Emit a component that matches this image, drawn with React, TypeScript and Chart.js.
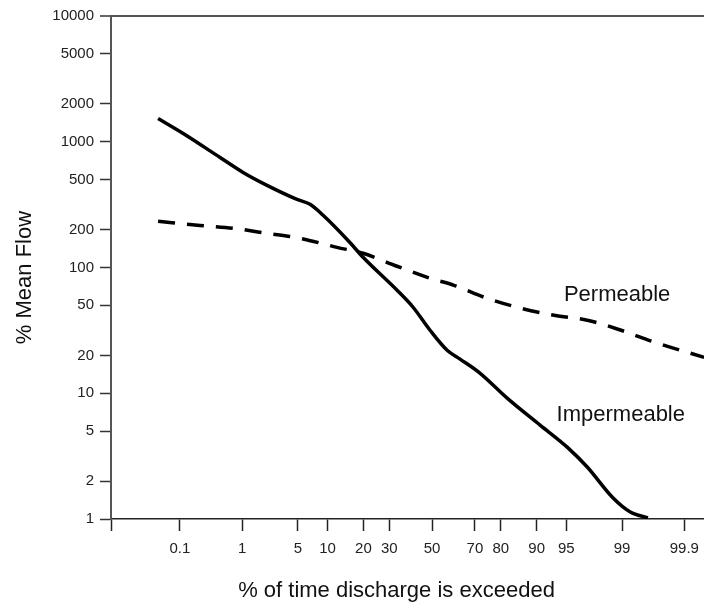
import React, { useEffect, useRef } from "react";
import { Chart, registerables } from "chart.js";

Chart.register(...registerables);

// ---- Data (x = % of time discharge is exceeded, y = % mean flow) ----
const IMPERMEABLE_PCT = [0.0395, 0.115, 0.47, 1.03, 2.16, 4.9, 6.75, 9.1, 15.7, 19.9, 33.4, 40.8, 49.0, 57.3, 63.4, 72.2, 82.1, 90.7, 95.1, 97.13, 98.67, 99.24, 99.59];
const IMPERMEABLE_FLOW = [1531, 1164, 750, 570, 450, 348, 318, 260, 158, 120.5, 65.9, 48.3, 31.7, 22.0, 18.7, 14.4, 9.14, 5.58, 3.73, 2.59, 1.468, 1.137, 1.02];

const PERMEABLE_PCT = [0.0395, 0.224, 0.74, 2.16, 5.3, 12.2, 19.9, 33.4, 49.0, 60.6, 75.0, 86.2, 93.25, 97.13, 98.97, 99.675, 99.957];
const PERMEABLE_FLOW = [233, 216, 205, 187, 170.6, 144.6, 129.7, 102.3, 82.1, 72.2, 56.9, 47.4, 41.7, 38.1, 31.7, 25.5, 19.3];

const X_TICK_PCT = [0.1, 1, 5, 10, 20, 30, 50, 70, 80, 90, 95, 99, 99.9];
const X_TICK_LABELS = ["0.1", "1", "5", "10", "20", "30", "50", "70", "80", "90", "95", "99", "99.9"];
const X_MIN_PCT = 0.00419;
const X_MAX_PCT = 99.9567;

const Y_TICKS = [1, 2, 5, 10, 20, 50, 100, 200, 500, 1000, 2000, 5000, 10000];
const Y_TICK_LABELS = ["1", "2", "5", "10", "20", "50", "100", "200", "500", "1000", "2000", "5000", "10000"];

const CURVE_LABELS = ["Permeable", "Impermeable"];
const CURVE_LABEL_PCT = [98.83, 98.96];
const CURVE_LABEL_FLOW = [54.4, 6.0];

const X_TITLE = "% of time discharge is exceeded";
const Y_TITLE = "% Mean Flow";

// Inverse normal CDF (Acklam) — probability-paper x axis
function probit(p: number): number {
  const a = [-3.969683028665376e1, 2.209460984245205e2, -2.759285104469687e2, 1.38357751867269e2, -3.066479806614716e1, 2.506628277459239];
  const b = [-5.447609879822406e1, 1.615858368580409e2, -1.556989798598866e2, 6.680131188771972e1, -1.328068155288572e1];
  const c = [-7.784894002430293e-3, -3.223964580411365e-1, -2.400758277161838, -2.549732539343734, 4.374664141464968, 2.938163982698783];
  const d = [7.784695709041462e-3, 3.224671290700398e-1, 2.445134137142996, 3.754408661907416];
  const pl = 0.02425;
  const ph = 1 - pl;
  let q: number, r: number;
  if (p < pl) {
    q = Math.sqrt(-2 * Math.log(p));
    return (((((c[0] * q + c[1]) * q + c[2]) * q + c[3]) * q + c[4]) * q + c[5]) / ((((d[0] * q + d[1]) * q + d[2]) * q + d[3]) * q + 1);
  }
  if (p <= ph) {
    q = p - 0.5;
    r = q * q;
    return ((((((a[0] * r + a[1]) * r + a[2]) * r + a[3]) * r + a[4]) * r + a[5]) * q) / (((((b[0] * r + b[1]) * r + b[2]) * r + b[3]) * r + b[4]) * r + 1);
  }
  q = Math.sqrt(-2 * Math.log(1 - p));
  return -(((((c[0] * q + c[1]) * q + c[2]) * q + c[3]) * q + c[4]) * q + c[5]) / ((((d[0] * q + d[1]) * q + d[2]) * q + d[3]) * q + 1);
}
const z = (pct: number) => probit(pct / 100);

const FONT = '"Liberation Sans", Arial, sans-serif';

export default function App() {
  const ref = useRef<HTMLCanvasElement | null>(null);

  useEffect(() => {
    if (!ref.current) return;
    const xTickZ = X_TICK_PCT.map(z);

    const textPlugin = {
      id: "texts",
      afterDraw(chart: any) {
        const { ctx, chartArea, scales } = chart;
        ctx.save();
        ctx.fillStyle = "#111";
        ctx.font = `22px ${FONT}`;
        ctx.textAlign = "center";
        ctx.textBaseline = "alphabetic";
        // curve labels placed in data coordinates
        CURVE_LABELS.forEach((t, i) => {
          const px = scales.x.getPixelForValue(z(CURVE_LABEL_PCT[i]));
          const py = scales.y.getPixelForValue(CURVE_LABEL_FLOW[i]);
          ctx.fillText(t, px, py);
        });
        // axis titles
        ctx.fillText(X_TITLE, (chartArea.left + chartArea.right) / 2 - 11, chart.height - 5);
        ctx.translate(31, (chartArea.top + chartArea.bottom) / 2 + 10);
        ctx.rotate(-Math.PI / 2);
        ctx.fillText(Y_TITLE, 0, 0);
        ctx.restore();
      },
    };

    const chart = new Chart(ref.current, {
      type: "line",
      data: {
        datasets: [
          {
            label: "Impermeable",
            data: IMPERMEABLE_PCT.map((p, i) => ({ x: z(p), y: IMPERMEABLE_FLOW[i] })),
            borderColor: "#000",
            borderWidth: 3.5,
            pointRadius: 0,
            cubicInterpolationMode: "monotone",
            fill: false,
          },
          {
            label: "Permeable",
            data: PERMEABLE_PCT.map((p, i) => ({ x: z(p), y: PERMEABLE_FLOW[i] })),
            borderColor: "#000",
            borderWidth: 3.5,
            borderDash: [17, 12],
            borderCapStyle: "butt",
            pointRadius: 0,
            cubicInterpolationMode: "monotone",
            fill: false,
          },
        ],
      },
      options: {
        responsive: false,
        animation: false,
        devicePixelRatio: 1,
        layout: { padding: { top: 16, right: 0, left: 0, bottom: 0 } },
        plugins: { legend: { display: false }, tooltip: { enabled: false } },
        scales: {
          x: {
            type: "linear",
            min: z(X_MIN_PCT),
            max: z(X_MAX_PCT),
            afterBuildTicks: (scale: any) => {
              scale.ticks = [z(X_MIN_PCT), ...xTickZ].map((v) => ({ value: v }));
            },
            afterFit: (scale: any) => {
              scale.height = 83;
              scale.paddingLeft = 0;
              scale.paddingRight = 0;
            },
            border: { display: true, color: "#222", width: 1.5 },
            grid: {
              color: "rgba(0,0,0,0)",
              tickColor: "#222",
              tickLength: 12,
              tickWidth: 1.5,
            },
            ticks: {
              autoSkip: false,
              maxRotation: 0,
              minRotation: 0,
              padding: 9,
              color: "#222",
              font: { family: FONT, size: 15 },
              callback: (v: any) => {
                const idx = xTickZ.findIndex((t) => Math.abs(t - Number(v)) < 1e-6);
                return idx >= 0 ? X_TICK_LABELS[idx] : "";
              },
            },
          },
          y: {
            type: "logarithmic",
            min: 1,
            max: 10000,
            afterBuildTicks: (scale: any) => {
              scale.ticks = Y_TICKS.map((v) => ({ value: v }));
            },
            afterFit: (scale: any) => {
              scale.width = 111;
              scale.paddingTop = 0;
              scale.paddingBottom = 0;
            },
            border: { display: true, color: "#555", width: 2 },
            grid: {
              color: (c: any) => (c.tick && c.tick.value === 10000 ? "#555" : "rgba(0,0,0,0)"),
              lineWidth: (c: any) => (c.tick && c.tick.value === 10000 ? 2 : 1),
              tickColor: "#333",
              tickLength: 11,
              tickWidth: 1.5,
            },
            ticks: {
              autoSkip: false,
              padding: 6,
              color: "#222",
              font: { family: FONT, size: 15 },
              callback: (v: any) => {
                const idx = Y_TICKS.indexOf(Number(v));
                return idx >= 0 ? Y_TICK_LABELS[idx] : "";
              },
            },
          },
        },
      } as any,
      plugins: [textPlugin],
    } as any);

    return () => chart.destroy();
  }, []);

  return (
    <div style={{ position: "absolute", left: 0, top: 0, width: 704, height: 602, background: "#fff" }}>
      <canvas ref={ref} width={704} height={602} style={{ display: "block" }} />
    </div>
  );
}
